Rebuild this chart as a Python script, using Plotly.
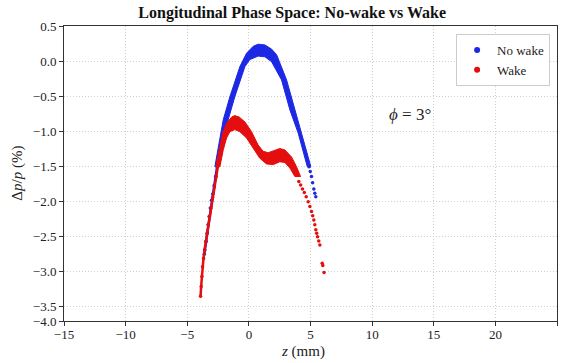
import plotly.graph_objects as go

# ---------------- data ----------------
# No wake: dense core band (outer / inner edge) and sparse tails
nw_outer_z = [-2.76, -2.30, -2.08, -1.54, -0.73, -0.19, 0.35, 0.75, 1.30, 1.84, 2.25, 3.06, 3.73, 4.27, 5.03]
nw_outer_dp = [-1.51, -1.03, -0.84, -0.51, -0.08, 0.11, 0.21, 0.24, 0.23, 0.17, 0.09, -0.27, -0.70, -1.03, -1.51]
nw_inner_z = [-2.41, -1.87, -1.68, -1.14, -0.32, 0.08, 0.75, 1.30, 1.84, 2.65, 3.33, 4.00, 4.74]
nw_inner_dp = [-1.51, -1.03, -0.84, -0.51, -0.08, 0.02, 0.07, 0.06, -0.01, -0.27, -0.70, -1.03, -1.51]
nw_tailL_z = [-2.58, -2.70, -2.82, -2.93, -3.03, -3.13, -3.22, -3.30, -3.38, -3.47, -3.57, -3.62]
nw_tailL_dp = [-1.51, -1.65, -1.78, -1.90, -1.99, -2.10, -2.22, -2.34, -2.46, -2.58, -2.70, -2.76]
nw_tailR_z = [4.88, 4.98, 5.08, 5.17, 5.27, 5.35, 5.43]
nw_tailR_dp = [-1.51, -1.58, -1.65, -1.74, -1.83, -1.89, -1.94]

# Wake
w_outer_z = [-2.68, -2.41, -2.13, -1.81, -1.40, -1.14, -0.79, -0.32, 0.22, 0.75, 1.16, 1.57, 2.11, 2.51, 2.92, 3.46, 3.87, 4.19]
w_outer_dp = [-1.51, -1.27, -1.03, -0.89, -0.80, -0.78, -0.80, -0.87, -1.01, -1.20, -1.29, -1.31, -1.27, -1.25, -1.27, -1.37, -1.51, -1.65]
w_inner_z = [-2.35, -2.08, -1.81, -1.54, -1.14, -0.73, -0.19, 0.35, 0.89, 1.43, 1.97, 2.51, 2.92, 3.33, 3.73]
w_inner_dp = [-1.51, -1.27, -1.10, -1.01, -0.98, -1.01, -1.10, -1.25, -1.39, -1.47, -1.48, -1.44, -1.45, -1.53, -1.65]
w_tailL_z = [-2.52, -2.65, -2.80, -2.95, -3.08, -3.20, -3.30, -3.38, -3.50, -3.60, -3.68, -3.76, -3.81, -3.87, -3.92]
w_tailL_dp = [-1.51, -1.65, -1.80, -1.95, -2.10, -2.22, -2.34, -2.46, -2.58, -2.70, -2.82, -2.94, -3.08, -3.22, -3.36]
w_tailR_z = [4.05, 4.20, 4.35, 4.50, 4.65, 4.81, 4.95, 5.08, 5.18, 5.27, 5.35, 5.43, 5.50, 5.57, 5.67, 5.76, 5.95, 6.00, 6.10]
w_tailR_dp = [-1.72, -1.77, -1.83, -1.88, -1.94, -2.01, -2.08, -2.15, -2.21, -2.27, -2.34, -2.41, -2.46, -2.51, -2.57, -2.63, -2.89, -2.92, -3.02]

x_ticks = [-15, -10, -5, 0, 5, 10, 15, 20, 25]
y_tickvals = [-3.714, -3.5, -3.0, -2.5, -2.0, -1.5, -1.0, -0.5, 0.0, 0.5]
y_ticktext = ["−4.0", "−3.5", "−3.0", "−2.5", "−2.0", "−1.5", "−1.0", "−0.5", "0.0", "0.5"]

BLUE = "rgb(28,40,228)"
RED = "rgb(228,14,14)"
FONT = "Liberation Serif, serif"

fig = go.Figure()


def add_series(name, color, oz, odp, iz, idp, lz, ldp, rz, rdp):
    fig.add_trace(go.Scatter(
        x=oz + iz[::-1], y=odp + idp[::-1], mode="lines", fill="toself",
        fillcolor=color, line=dict(color=color, width=1.0),
        showlegend=False, hoverinfo="skip"))
    fig.add_trace(go.Scatter(
        x=lz, y=ldp, mode="lines+markers", line=dict(color=color, width=2.5),
        marker=dict(color=color, size=3.5), showlegend=False, hoverinfo="skip"))
    fig.add_trace(go.Scatter(
        x=rz, y=rdp, mode="markers",
        marker=dict(color=color, size=3.5), showlegend=False, hoverinfo="skip"))
    fig.add_trace(go.Scatter(
        x=[None], y=[None], mode="markers", name=name,
        marker=dict(color=color, size=6)))


add_series("No wake", BLUE, nw_outer_z, nw_outer_dp, nw_inner_z, nw_inner_dp,
           nw_tailL_z, nw_tailL_dp, nw_tailR_z, nw_tailR_dp)
add_series("Wake", RED, w_outer_z, w_outer_dp, w_inner_z, w_inner_dp,
           w_tailL_z, w_tailL_dp, w_tailR_z, w_tailR_dp)

axis_common = dict(
    showline=True, linecolor="#333333", linewidth=1, mirror=True,
    ticks="outside", ticklen=4, tickcolor="#333333",
    showgrid=True, gridcolor="#cfcfcf", griddash="1px,2px", gridwidth=1,
    zeroline=False, tickfont=dict(family=FONT, size=13, color="#222222"),
)

fig.update_layout(
    width=563, height=363,
    margin=dict(l=64, r=6, t=26, b=42),
    paper_bgcolor="white", plot_bgcolor="white",
    font=dict(family=FONT, color="#222222"),
    title=dict(text="<b>Longitudinal Phase Space: No-wake vs Wake</b>",
               x=0.519, xanchor="center", y=0.965, yanchor="middle",
               font=dict(family=FONT, size=16, color="#111111")),
    xaxis=dict(range=[-15, 25], tickvals=x_ticks, ticklabelstandoff=-3, **axis_common),
    yaxis=dict(range=[-3.714, 0.5], tickvals=y_tickvals, ticktext=y_ticktext, **axis_common),
    legend=dict(x=0.986, y=0.973, xanchor="right", yanchor="top",
                bgcolor="white", bordercolor="#cccccc", borderwidth=1,
                font=dict(family=FONT, size=13, color="#222222")),
    showlegend=True,
)

fig.add_annotation(text="<i>ϕ</i> = 3°", x=13.06, y=-0.77, xref="x", yref="y",
                   showarrow=False, font=dict(family=FONT, size=17, color="#222222"))
fig.add_annotation(text="<i>z</i> (mm)", x=0.485, y=-0.105, xref="paper", yref="paper",
                   showarrow=False, xanchor="center", yanchor="middle",
                   font=dict(family=FONT, size=15, color="#222222"))
fig.add_annotation(text="Δ<i>p</i>/<i>p</i> (%)", x=-0.095, y=0.5, xref="paper", yref="paper",
                   showarrow=False, textangle=-90, xanchor="center", yanchor="middle",
                   font=dict(family=FONT, size=15, color="#222222"))

fig.write_html("out.html", config={"displayModeBar": False},
               post_script="document.body.style.margin='0px';document.body.style.overflow='hidden';")
